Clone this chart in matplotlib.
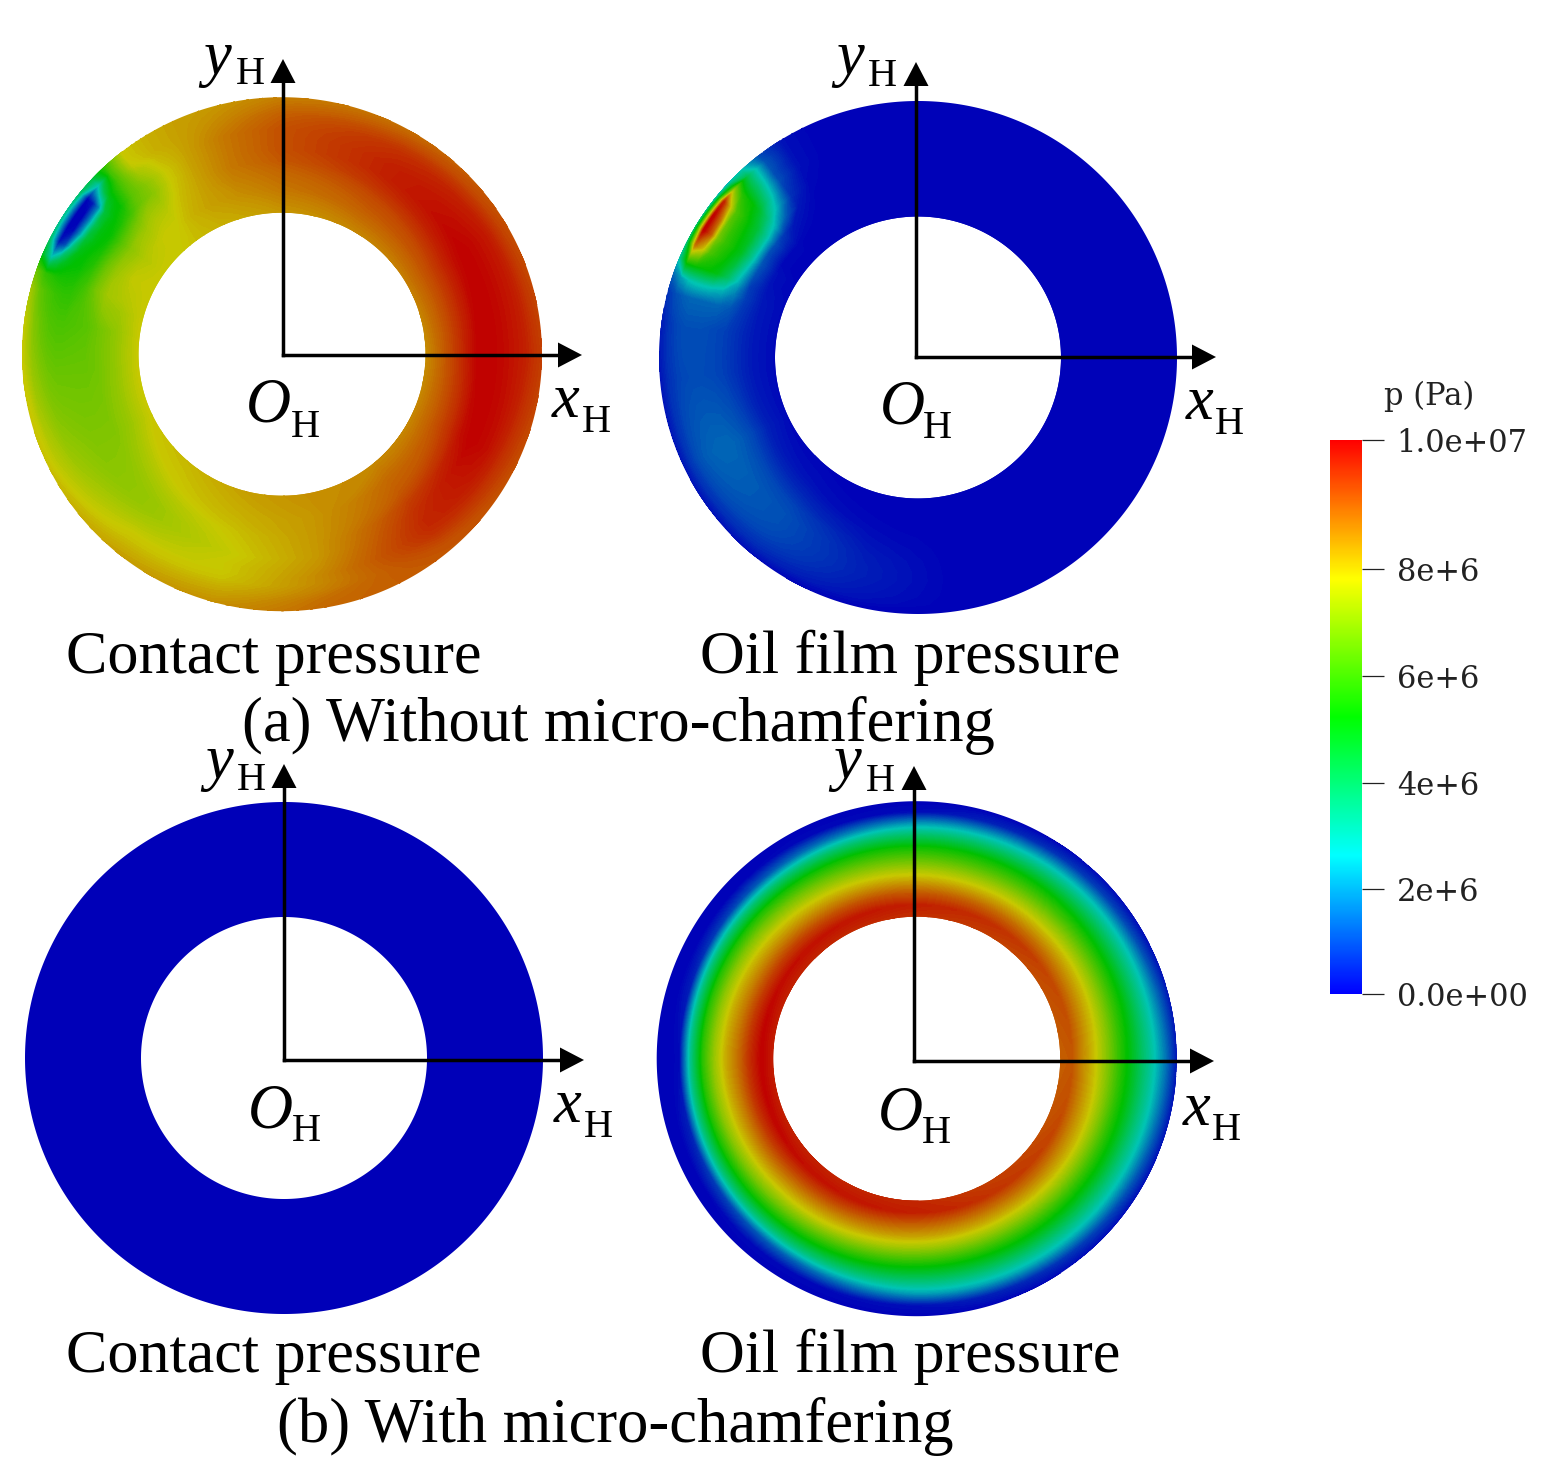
import numpy as np
import matplotlib
matplotlib.use("Agg")
import matplotlib.pyplot as plt
from matplotlib.colors import LinearSegmentedColormap, Normalize
from matplotlib.cm import ScalarMappable
from matplotlib.path import Path
from matplotlib.patches import PathPatch, Polygon
from matplotlib.transforms import Transform

W, H = 1554, 1480

# ---- field tables: pressure in MPa, one list per angle, inner edge to outer edge ----
radial_a = [0, .2, .35, .45, .55, .65, .72, .79, .85, .92, 1]
angles_a = [0, 30, 60, 90, 105, 115, 122, 128, 133, 137, 141, 145, 149, 153, 157, 161,
            165, 172, 185, 205, 230, 255, 280, 310, 335, 360]
contact_a = [
    [8.2, 9.0, 9.6, 10, 10, 9.9, 9.8, 9.7, 9.6, 9.4, 9.2],
    [8.4, 9.0, 9.5, 9.8, 10, 9.9, 9.8, 9.7, 9.5, 9.2, 9.0],
    [8.3, 8.8, 9.1, 9.4, 9.6, 9.6, 9.5, 9.4, 9.2, 8.9, 8.6],
    [8.1, 8.5, 8.7, 8.9, 9.0, 9.0, 9.0, 8.9, 8.8, 8.6, 8.4],
    [7.9, 8.2, 8.4, 8.5, 8.5, 8.5, 8.5, 8.4, 8.3, 8.2, 8.1],
    [7.8, 8.0, 8.0, 8.0, 8.0, 8.0, 8.0, 8.0, 8.0, 8.0, 8.0],
    [7.7, 7.8, 7.7, 7.6, 7.5, 7.5, 7.6, 7.7, 7.8, 7.8, 7.8],
    [7.6, 7.5, 7.3, 7.0, 6.7, 6.7, 6.9, 7.1, 7.4, 7.5, 7.5],
    [7.5, 7.5, 7.2, 6.9, 6.3, 6.1, 6.0, 5.9, 5.8, 5.8, 5.6],
    [7.5, 7.4, 7.0, 6.5, 5.7, 5.1, 4.9, 4.7, 4.0, 2.5, 4.0],
    [7.5, 7.3, 6.9, 6.2, 5.3, 4.8, 4.2, 1.6, 0.3, 0.0, 3.5],
    [7.5, 7.2, 6.7, 6.0, 5.1, 4.8, 3.8, 1.5, 0.0, 0.0, 3.0],
    [7.5, 7.3, 6.8, 6.1, 5.2, 4.8, 4.2, 1.8, 0.1, 0.0, 3.0],
    [7.5, 7.4, 6.9, 6.3, 5.4, 5.0, 4.7, 3.3, 1.0, 0.2, 3.5],
    [7.5, 7.3, 7.0, 6.4, 5.6, 5.1, 5.0, 4.6, 3.8, 2.5, 4.5],
    [7.5, 7.2, 7.0, 6.5, 5.8, 5.4, 5.3, 5.3, 5.4, 5.6, 6.3],
    [7.5, 7.0, 6.8, 6.3, 5.9, 5.6, 5.6, 5.7, 5.9, 6.2, 7.0],
    [7.5, 6.8, 6.4, 6.1, 6.0, 5.9, 5.9, 6.0, 6.2, 6.6, 7.4],
    [7.5, 6.8, 6.4, 6.3, 6.3, 6.3, 6.3, 6.4, 6.6, 6.9, 7.5],
    [7.5, 6.9, 6.6, 6.6, 6.6, 6.7, 6.8, 6.9, 7.1, 7.3, 7.6],
    [7.7, 7.5, 7.1, 6.9, 6.9, 7.1, 7.3, 7.5, 7.6, 7.8, 8.0],
    [8.0, 7.8, 7.6, 7.5, 7.4, 7.5, 7.5, 7.6, 7.8, 8.0, 8.2],
    [8.2, 8.1, 8.1, 8.1, 8.1, 8.2, 8.3, 8.3, 8.4, 8.6, 8.7],
    [8.3, 8.7, 8.9, 9.2, 9.4, 9.5, 9.5, 9.4, 9.2, 9.0, 8.9],
    [8.3, 8.9, 9.4, 9.8, 10, 9.9, 9.8, 9.6, 9.4, 9.2, 9.0],
    [8.2, 9.0, 9.6, 10, 10, 9.9, 9.8, 9.7, 9.6, 9.4, 9.2],
]
oil_a = [
    [0, 0, 0, 0, 0, 0, 0, 0, 0, 0, 0],
    [0, 0, 0, 0, 0, 0, 0, 0, 0, 0, 0],
    [0, 0, 0, 0, 0, 0, 0, 0, 0, 0, 0],
    [0, 0, 0, 0, 0, 0, 0, 0, 0, 0, 0],
    [0, 0, 0, 0, 0, 0, 0, 0, 0, 0, 0],
    [0, 0, 0, 0, 0, .02, .03, .03, .03, .03, .02],
    [0, 0, 0, .05, .1, .15, .2, .2, .2, .2, .2],
    [0, 0, .15, .3, .6, .8, 1.0, 1.0, 1.1, 1.1, .9],
    [0, .05, .3, 1.2, 2.2, 2.9, 3.2, 3.5, 3.6, 3.8, 2.5],
    [0, .1, .7, 2.2, 3.4, 4.5, 5.0, 5.2, 5.5, 6.5, 2.0],
    [0, .1, 1.0, 2.8, 4.2, 5.0, 5.5, 6.0, 7.5, 9.5, 2.0],
    [0, .1, 1.0, 3.0, 4.5, 5.2, 5.6, 6.3, 8.5, 10, 2.5],
    [.05, .2, 1.1, 3.0, 4.6, 5.3, 5.7, 6.5, 8.8, 10, 3.0],
    [.05, .2, 1.0, 2.6, 4.2, 5.1, 5.5, 6.0, 7.5, 8.5, 3.0],
    [.1, .25, .8, 2.2, 3.6, 4.7, 5.0, 5.1, 5.3, 5.5, 2.6],
    [.1, .3, .8, 1.6, 2.2, 2.5, 2.6, 2.6, 2.5, 2.0, 1.2],
    [.1, .3, .7, 1.1, 1.3, 1.3, 1.3, 1.3, 1.2, 1.0, .6],
    [.1, .3, .6, .8, .9, 1.0, 1.0, 1.0, .9, .7, .3],
    [.1, .3, .6, .8, .9, .95, .95, .9, .8, .6, .2],
    [.1, .4, .9, 1.15, 1.3, 1.3, 1.25, 1.15, 1.0, .7, .2],
    [.05, .2, .55, .85, 1.0, 1.0, .95, .85, .7, .5, .1],
    [0, .05, .15, .25, .35, .4, .4, .35, .3, .2, 0],
    [0, 0, 0, 0, 0, 0, 0, 0, 0, 0, 0],
    [0, 0, 0, 0, 0, 0, 0, 0, 0, 0, 0],
    [0, 0, 0, 0, 0, 0, 0, 0, 0, 0, 0],
    [0, 0, 0, 0, 0, 0, 0, 0, 0, 0, 0],
]
contact_b_value = 0.0
radial_b = [0, .1, .2, .3, .4, .5, .6, .7, .8, .9, 1]
angles_b = [0, 15, 30, 45, 60, 75, 90, 105, 120, 135, 150, 165, 180, 195, 210, 225, 240,
            255, 270, 285, 300, 315, 330, 345, 360]
oil_b = [
    [8.8, 8.9, 8.2, 7.5, 6.6, 5.6, 4.7, 3.6, 2.6, 1.5, 0.2],
    [8.9, 9.0, 8.3, 7.6, 6.7, 5.7, 4.8, 3.6, 2.5, 1.3, 0.2],
    [9.0, 9.1, 8.4, 7.7, 6.8, 5.8, 4.8, 3.6, 2.4, 1.0, 0.1],
    [9.1, 9.25, 8.55, 7.75, 6.85, 5.85, 4.9, 3.6, 2.3, 0.8, 0.1],
    [9.2, 9.4, 8.7, 7.85, 6.95, 5.95, 5.0, 3.6, 2.2, 0.6, 0.0],
    [9.3, 9.5, 8.8, 7.9, 7.0, 6.0, 5.05, 3.6, 2.1, 0.4, 0.0],
    [9.4, 9.6, 8.9, 8.0, 7.1, 6.1, 5.1, 3.6, 2.0, 0.15, 0.0],
    [9.45, 9.7, 9.0, 8.1, 7.2, 6.2, 5.15, 3.55, 1.7, 0.1, 0.0],
    [9.45, 9.75, 9.05, 8.2, 7.35, 6.35, 5.2, 3.5, 1.4, 0.1, 0.0],
    [9.5, 9.8, 9.15, 8.3, 7.5, 6.5, 5.3, 3.4, 1.05, 0.05, 0.0],
    [9.55, 9.85, 9.2, 8.4, 7.65, 6.65, 5.35, 3.35, 0.7, 0.0, 0.0],
    [9.6, 9.95, 9.3, 8.5, 7.8, 6.8, 5.45, 3.25, 0.35, 0.0, 0.0],
    [9.6, 10, 9.4, 8.6, 7.9, 6.9, 5.5, 3.2, 0.1, 0.0, 0.0],
    [9.6, 9.95, 9.35, 8.5, 7.75, 6.75, 5.35, 3.25, 0.4, 0.0, 0.0],
    [9.55, 9.9, 9.25, 8.45, 7.6, 6.55, 5.2, 3.3, 0.75, 0.05, 0.0],
    [9.55, 9.8, 9.1, 8.3, 7.45, 6.35, 5.05, 3.3, 1.05, 0.1, 0.0],
    [9.5, 9.75, 9.05, 8.2, 7.35, 6.15, 4.9, 3.3, 1.35, 0.1, 0.0],
    [9.5, 9.7, 8.9, 8.1, 7.15, 5.95, 4.75, 3.3, 1.7, 0.15, 0.0],
    [9.5, 9.6, 8.8, 8.0, 7.0, 5.8, 4.6, 3.3, 2.0, 0.2, 0.0],
    [9.35, 9.5, 8.7, 7.9, 6.9, 5.75, 4.6, 3.35, 2.1, 0.4, 0.0],
    [9.2, 9.35, 8.6, 7.8, 6.8, 5.7, 4.65, 3.4, 2.2, 0.6, 0.05],
    [9.15, 9.25, 8.55, 7.75, 6.8, 5.7, 4.65, 3.45, 2.3, 0.85, 0.1],
    [9.0, 9.15, 8.4, 7.7, 6.7, 5.65, 4.7, 3.5, 2.4, 1.1, 0.1],
    [8.9, 9.0, 8.3, 7.6, 6.65, 5.6, 4.7, 3.55, 2.5, 1.3, 0.15],
    [8.8, 8.9, 8.2, 7.5, 6.6, 5.6, 4.7, 3.6, 2.6, 1.5, 0.2],
]

# ---- colour bar ----
cbar_ticks = [0, 1.9, 3.81, 5.74, 7.67, 10]
cbar_labels = ["0.0e+00", "2e+6", "4e+6", "6e+6", "8e+6", "1.0e+07"]
cbar_title = "p (Pa)"

# ---- text ----
captions_small = ["Contact pressure", "Oil film pressure"]
caption_a = "(a) Without micro-chamfering"
caption_b = "(b) With micro-chamfering"

plt.rcParams["font.family"] = ["Liberation Serif", "DejaVu Serif"]
SERIF = "Liberation Serif"

lit_cmap = LinearSegmentedColormap.from_list(
    "lit", ["#0000b8", "#00c4b4", "#00c000", "#c8c800", "#c00000"], N=512)
bright_cmap = LinearSegmentedColormap.from_list(
    "bright", ["#0000ff", "#00ffff", "#00ff00", "#ffff00", "#ff0000"], N=512)
norm = Normalize(0, 10)
levels = np.linspace(-0.001, 10.001, 161)

fig = plt.figure(figsize=(W / 100, H / 100), dpi=100)
ax = fig.add_axes([0, 0, 1, 1])
ax.set_xlim(0, W)
ax.set_ylim(H, 0)
ax.axis("off")


class RingTransform(Transform):
    """(angle in degrees, fraction across the ring) -> picture coordinates."""
    input_dims = output_dims = 2

    def __init__(self, g, steps=8):
        super().__init__()
        self.g = g
        self.steps = steps

    def transform_non_affine(self, values):
        v = np.asarray(values, float)
        cx, cy, rix, riy, rox, roy = self.g
        t = np.radians(v[:, 0])
        s = v[:, 1]
        return np.c_[cx + (rix + s * (rox - rix)) * np.cos(t),
                     cy - (riy + s * (roy - riy)) * np.sin(t)]

    def transform_path_non_affine(self, path):
        p = path.interpolated(self.steps)
        return Path(self.transform_non_affine(p.vertices), p.codes)


def ring_path(g):
    t = np.radians(np.linspace(0, 360, 721))
    cx, cy, rix, riy, rox, roy = g
    ox, oy = cx + rox * np.cos(t), cy - roy * np.sin(t)
    ix, iy = cx + rix * np.cos(t[::-1]), cy - riy * np.sin(t[::-1])
    verts = np.r_[np.c_[ox, oy], np.c_[ix, iy]]
    codes = np.full(len(verts), Path.LINETO)
    codes[0] = Path.MOVETO
    codes[len(t)] = Path.MOVETO
    return Path(verts, codes)


def draw_field(g, radial, angles, table):
    z = np.array(table, float).T
    z = np.vstack([z, z[-1]])               # pad past the rim for the clip
    s = np.r_[radial, 1.1]
    cs = ax.contourf(angles, s, z, levels=levels, cmap=lit_cmap, norm=norm, zorder=1,
                     transform=RingTransform(g) + ax.transData)
    cs.set_edgecolor("face")
    cs.set_linewidth(0.3)
    clip = PathPatch(ring_path(g), transform=ax.transData, fc="none", ec="none")
    ax.add_patch(clip)
    cs.set_clip_path(clip)


geom = {
    "ca": (282, 354.2, 143.5, 141.5, 260, 257),
    "oa": (918, 357.5, 143, 141, 259, 256.5),
    "cb": (284, 1058, 143, 141, 259, 256),
    "ob": (916.7, 1058.7, 143.5, 142, 260, 257.5),
}
draw_field(geom["ca"], radial_a, angles_a, contact_a)
draw_field(geom["oa"], radial_a, angles_a, oil_a)
ax.add_patch(PathPatch(ring_path(geom["cb"]), fc=lit_cmap(norm(contact_b_value)), ec="none", zorder=1))
draw_field(geom["ob"], radial_b, angles_b, oil_b)

# ---- coordinate frames ----
frames = [
    dict(o=(283, 355), xtip=582, ytip=59, y=(203, 74), yh=(236, 84), x=(552, 417), xh=(582, 432), O=(246, 422), Oh=(291, 437)),
    dict(o=(916, 357), xtip=1216, ytip=62, y=(836, 74), yh=(868, 86), x=(1186, 419), xh=(1215, 434), O=(880, 424), Oh=(923, 438)),
    dict(o=(284, 1060), xtip=584, ytip=764, y=(205, 778), yh=(237, 790), x=(554, 1122), xh=(584, 1137), O=(248, 1127), Oh=(292, 1141)),
    dict(o=(914, 1061), xtip=1214, ytip=766, y=(833, 778), yh=(866, 791), x=(1183, 1125), xh=(1212, 1140), O=(878, 1129), Oh=(922, 1143)),
]
AL, AW = 24, 12.5
for f in frames:
    ox, oy = f["o"]
    ax.plot([ox, f["xtip"] - AL], [oy, oy], color="k", lw=2.5, zorder=3, solid_capstyle="projecting")
    ax.plot([ox, ox], [oy, f["ytip"] + AL], color="k", lw=2.5, zorder=3, solid_capstyle="projecting")
    ax.add_patch(Polygon([(f["xtip"], oy), (f["xtip"] - AL, oy - AW), (f["xtip"] - AL, oy + AW)], fc="k", ec="none", zorder=3))
    ax.add_patch(Polygon([(ox, f["ytip"]), (ox - AW, f["ytip"] + AL), (ox + AW, f["ytip"] + AL)], fc="k", ec="none", zorder=3))
    for key, ch in (("y", "y"), ("x", "x"), ("O", "O")):
        ax.text(*f[key], ch, family=SERIF, style="italic", fontsize=45, ha="left", va="baseline", zorder=4)
    for key in ("yh", "xh", "Oh"):
        ax.text(*f[key], "H", family=SERIF, fontsize=29, ha="left", va="baseline", zorder=4)

# ---- captions ----
for base in (673, 1372):
    ax.text(66, base, captions_small[0], family=SERIF, fontsize=44.7, ha="left", va="baseline")
    ax.text(700, base, captions_small[1], family=SERIF, fontsize=44.7, ha="left", va="baseline")
ax.text(242, 741, caption_a, family=SERIF, fontsize=45, ha="left", va="baseline")
ax.text(277, 1442, caption_b, family=SERIF, fontsize=45, ha="left", va="baseline")

# ---- colour bar ----
cax = fig.add_axes([1330 / W, 1 - 994 / H, 32 / W, 554 / H])
cb = fig.colorbar(ScalarMappable(norm, bright_cmap), cax=cax, ticks=cbar_ticks)
cb.set_ticklabels(cbar_labels)
cb.outline.set_visible(False)
cax.tick_params(axis="y", length=16, width=0.9, color="#222222", pad=9, labelsize=22,
                labelcolor="#222222")
for lab in cax.get_yticklabels():
    lab.set_family("DejaVu Serif")
ax.text(1384, 405, cbar_title, family="DejaVu Serif", fontsize=22, color="#222222", ha="left", va="baseline")

fig.savefig("out.png", dpi=100, facecolor="white")
